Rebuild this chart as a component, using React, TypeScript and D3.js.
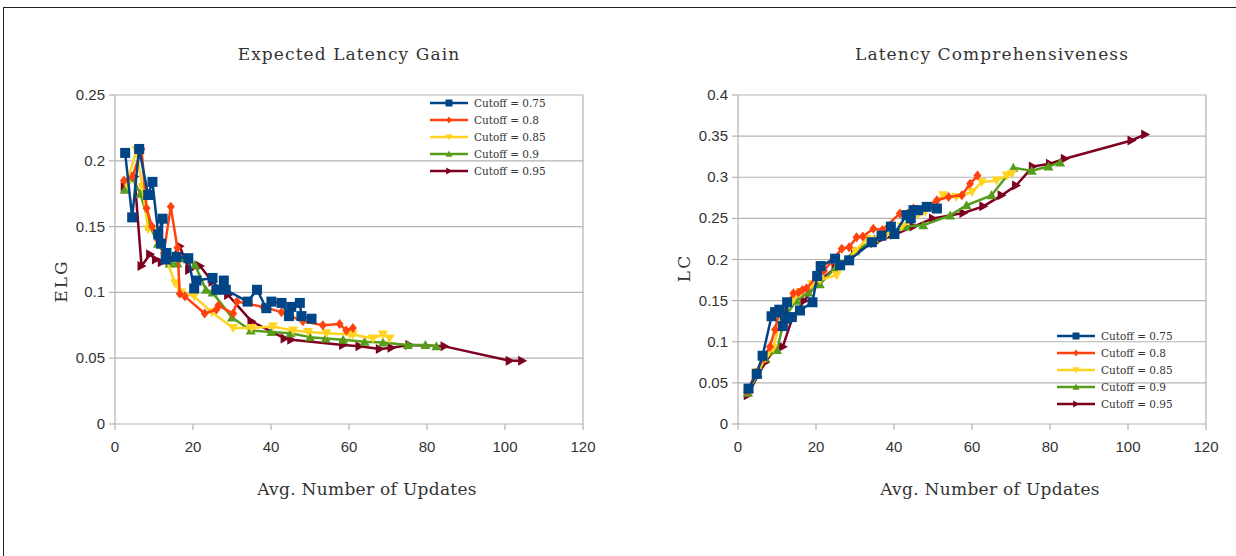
import React from "react";
import * as d3 from "d3";

const W = 1236;
const H = 556;

const seriesNames = ["Cutoff = 0.75", "Cutoff = 0.8", "Cutoff = 0.85", "Cutoff = 0.9", "Cutoff = 0.95"];
const seriesColors = ["#004586", "#ff420e", "#ffd320", "#579d1c", "#7e0021"];
const seriesShapes = ["square", "diamond", "down", "up", "right"];

const xTicks = [0, 20, 40, 60, 80, 100, 120];
const elgTicks = [0, 0.05, 0.1, 0.15, 0.2, 0.25];
const lcTicks = [0, 0.05, 0.1, 0.15, 0.2, 0.25, 0.3, 0.35, 0.4];

// Expected Latency Gain: [avg updates, ELG]
const elg075 = [[2.6,0.206],[4.4,0.157],[6.2,0.209],[8.5,0.174],[9.6,0.184],[11.1,0.144],[12.2,0.156],[11.8,0.137],[13.2,0.130],[13,0.125],[15.8,0.127],[18.8,0.126],[20.3,0.103],[20.9,0.109],[25,0.111],[26,0.102],[27.9,0.109],[28.4,0.102],[34,0.093],[36.4,0.102],[38.8,0.088],[40.1,0.093],[42.7,0.092],[44.6,0.082],[45.2,0.089],[47.4,0.092],[47.8,0.082],[50.4,0.080]];
const elg080 = [[2.3,0.185],[4.5,0.188],[6.8,0.209],[8.1,0.164],[9.5,0.150],[11,0.140],[12.5,0.130],[14.3,0.165],[16,0.134],[16.6,0.099],[17.9,0.097],[23,0.084],[26,0.087],[26.5,0.090],[30.3,0.084],[31.3,0.093],[38,0.089],[42.7,0.085],[48.2,0.078],[53.3,0.075],[57.6,0.076],[59.3,0.071],[61,0.073]];
const elg085 = [[3,0.182],[5.5,0.208],[7,0.180],[8.5,0.148],[10,0.148],[12,0.135],[15.4,0.107],[17,0.100],[20.3,0.097],[24.8,0.085],[30.3,0.073],[35,0.073],[40.5,0.074],[45.7,0.071],[49.5,0.070],[54.2,0.069],[60.2,0.068],[61,0.068],[66.1,0.065],[68.7,0.068],[70.4,0.065]];
const elg090 = [[2.5,0.178],[4.5,0.187],[6.5,0.175],[9,0.150],[11,0.137],[14,0.122],[16,0.122],[17.8,0.126],[20.5,0.121],[23.3,0.102],[25,0.100],[30,0.081],[34.8,0.071],[40.1,0.070],[45,0.069],[50,0.066],[54,0.065],[58.5,0.064],[64,0.0625],[68.7,0.062],[75.1,0.060],[79.6,0.060],[82.4,0.059]];
const elg095 = [[2.5,0.180],[5,0.188],[6.8,0.120],[9,0.129],[10.5,0.125],[12,0.123],[14,0.124],[16.6,0.135],[19,0.117],[21.8,0.120],[25,0.108],[29,0.098],[35,0.078],[43.5,0.065],[45.2,0.064],[58.5,0.060],[62.7,0.059],[67.9,0.057],[70.9,0.058],[75.5,0.060],[84.5,0.059],[101.2,0.048],[104.4,0.048]];

// Latency Comprehensiveness: [avg updates, LC]
const lc075 = [[2.7,0.043],[4.8,0.061],[6.3,0.083],[8.6,0.131],[9.5,0.136],[10.6,0.139],[11.5,0.119],[12.6,0.148],[12.6,0.128],[13.8,0.130],[15.9,0.138],[19.1,0.148],[20.3,0.180],[21.2,0.192],[24.9,0.201],[26.2,0.193],[28.5,0.199],[34.3,0.221],[36.8,0.229],[39.2,0.240],[40.1,0.231],[43.2,0.254],[44.3,0.250],[45,0.260],[46.2,0.260],[48.4,0.264],[51,0.262]];
const lc080 = [[2.5,0.040],[4.5,0.062],[6.5,0.080],[8.2,0.094],[9.5,0.115],[10.5,0.135],[12,0.140],[14.2,0.159],[15.5,0.160],[16.5,0.163],[17.6,0.165],[20,0.178],[22,0.186],[24,0.198],[26.6,0.213],[28.5,0.215],[30.4,0.227],[32,0.228],[34.7,0.2375],[37,0.236],[41.5,0.256],[45,0.262],[48,0.264],[51,0.272],[54,0.276],[57.4,0.278],[59.5,0.292],[61.4,0.302]];
const lc085 = [[2.5,0.040],[5,0.063],[7,0.080],[9,0.092],[11,0.130],[14,0.150],[16,0.160],[19,0.170],[21,0.175],[25.3,0.181],[27,0.195],[30,0.210],[33,0.225],[38,0.230],[42,0.240],[48,0.258],[52.6,0.278],[56,0.276],[60,0.282],[62.5,0.294],[66.3,0.296],[68.9,0.302],[70.2,0.304]];
const lc090 = [[2.5,0.038],[5,0.060],[7,0.080],[10,0.090],[12,0.130],[15,0.150],[18,0.160],[21,0.170],[25,0.190],[30,0.210],[35,0.225],[40,0.235],[43,0.240],[47.5,0.2415],[54.4,0.2536],[58.6,0.266],[65,0.278],[70.6,0.3115],[75.3,0.308],[79.6,0.313],[82.6,0.318]];
const lc095 = [[2.5,0.035],[5,0.058],[7,0.075],[9,0.088],[11.5,0.094],[14,0.130],[17,0.150],[20,0.170],[25,0.190],[30,0.210],[35,0.220],[40,0.230],[45,0.240],[50,0.250],[57.8,0.2565],[62.9,0.2646],[67.6,0.278],[71.3,0.290],[75.6,0.313],[80,0.3165],[83.8,0.3225],[100.9,0.3447],[104.4,0.352]];

const elgSeries = [elg075, elg080, elg085, elg090, elg095];
const lcSeries = [lc075, lc080, lc085, lc090, lc095];

function markerPath(shape: string, s: number) {
  const h = s / 2;
  switch (shape) {
    case "square":
      return `M${-h},${-h}H${h}V${h}H${-h}Z`;
    case "diamond":
      return `M0,${-h}L${h * 0.8},0L0,${h}L${-h * 0.8},0Z`;
    case "down":
      return `M${-h},${-h * 0.8}L${h},${-h * 0.8}L0,${h}Z`;
    case "up":
      return `M${-h},${h * 0.8}L${h},${h * 0.8}L0,${-h}Z`;
    default:
      return `M${-h * 0.8},${-h}L${h},0L${-h * 0.8},${h}Z`;
  }
}

type ChartProps = {
  left: number;
  right: number;
  title: string;
  titleX: number;
  xLabelX: number;
  yLabel: string;
  yLabelY: number;
  yTicks: number[];
  yMax: number;
  series: number[][][];
  legendX: number;
  legendY: number;
  yFmt: (v: number) => string;
};

const top = 95;
const bottom = 424;

function Chart({ left, right, title, titleX, xLabelX, yLabel, yLabelY, yTicks, yMax, series, legendX, legendY, yFmt }: ChartProps) {
  const x = d3.scaleLinear().domain([0, 120]).range([left, right]);
  const y = d3.scaleLinear().domain([0, yMax]).range([bottom, top]);
  const line = d3.line<number[]>().x(d => x(d[0])).y(d => y(d[1]));
  const order = [4, 3, 2, 1, 0];

  return (
    <g>
      <text x={titleX} y={60} textAnchor="middle" fontFamily="DejaVu Serif" fontSize={17} letterSpacing={1.1} fill="#333">{title}</text>
      {yTicks.map(t => (
        <g key={"y" + t}>
          <line x1={left} x2={right} y1={y(t)} y2={y(t)} stroke="#b3b3b3" strokeWidth={1.2} />
          <line x1={left - 6} x2={left} y1={y(t)} y2={y(t)} stroke="#b3b3b3" strokeWidth={1.2} />
          <text x={left - 10} y={y(t) + 5} textAnchor="end" fontFamily="Liberation Sans" fontSize={15} fill="#333">{yFmt(t)}</text>
        </g>
      ))}
      {xTicks.map(t => (
        <g key={"x" + t}>
          <line x1={x(t)} x2={x(t)} y1={bottom} y2={bottom + 6} stroke="#b3b3b3" strokeWidth={1.2} />
          <text x={x(t)} y={bottom + 28} textAnchor="middle" fontFamily="Liberation Sans" fontSize={15} fill="#333">{t}</text>
        </g>
      ))}
      <line x1={left} x2={left} y1={top} y2={bottom} stroke="#b3b3b3" strokeWidth={1.2} />
      <line x1={right} x2={right} y1={top} y2={bottom} stroke="#b3b3b3" strokeWidth={1.2} />
      <text x={xLabelX} y={495} textAnchor="middle" fontFamily="DejaVu Serif" fontSize={17} letterSpacing={0.3} fill="#333">Avg. Number of Updates</text>
      <text transform={`translate(${left - 48},${yLabelY}) rotate(-90)`} textAnchor="middle" fontFamily="DejaVu Serif" fontSize={17} letterSpacing={2} fill="#333">{yLabel}</text>
      {order.map(i => (
        <g key={"s" + i}>
          <path d={line(series[i]) || ""} fill="none" stroke={seriesColors[i]} strokeWidth={2.5} strokeLinejoin="round" />
          {series[i].map((d, j) => (
            <path key={j} d={markerPath(seriesShapes[i], 10)} transform={`translate(${x(d[0])},${y(d[1])})`} fill={seriesColors[i]} />
          ))}
        </g>
      ))}
      {seriesNames.map((n, i) => {
        const ly = legendY + i * 17;
        return (
          <g key={"l" + i}>
            <line x1={legendX} x2={legendX + 38} y1={ly} y2={ly} stroke={seriesColors[i]} strokeWidth={2.5} />
            <path d={markerPath(seriesShapes[i], 7)} transform={`translate(${legendX + 19},${ly})`} fill={seriesColors[i]} />
            <text x={legendX + 44} y={ly + 4} fontFamily="DejaVu Serif" fontSize={10.5} fill="#333">{n}</text>
          </g>
        );
      })}
    </g>
  );
}

export default function App() {
  const f2 = (v: number) => (v === 0 ? "0" : String(+v.toFixed(2)));
  return (
    <svg width={W} height={H} style={{ position: "absolute", left: 0, top: 0, background: "#fff" }}>
      <rect x={0} y={0} width={W} height={H} fill="#fff" />
      <line x1={3} x2={W} y1={7.5} y2={7.5} stroke="#222" strokeWidth={1} />
      <line x1={3.5} x2={3.5} y1={7.5} y2={H} stroke="#222" strokeWidth={1} />
      <Chart left={115} right={583} title="Expected Latency Gain" titleX={349} xLabelX={367} yLabel="ELG" yLabelY={281}
        yTicks={elgTicks} yMax={0.25} series={elgSeries} legendX={430} legendY={103} yFmt={f2} />
      <Chart left={738} right={1206} title="Latency Comprehensiveness" titleX={992} xLabelX={990} yLabel="LC" yLabelY={268}
        yTicks={lcTicks} yMax={0.4} series={lcSeries} legendX={1057} legendY={336} yFmt={f2} />
    </svg>
  );
}
